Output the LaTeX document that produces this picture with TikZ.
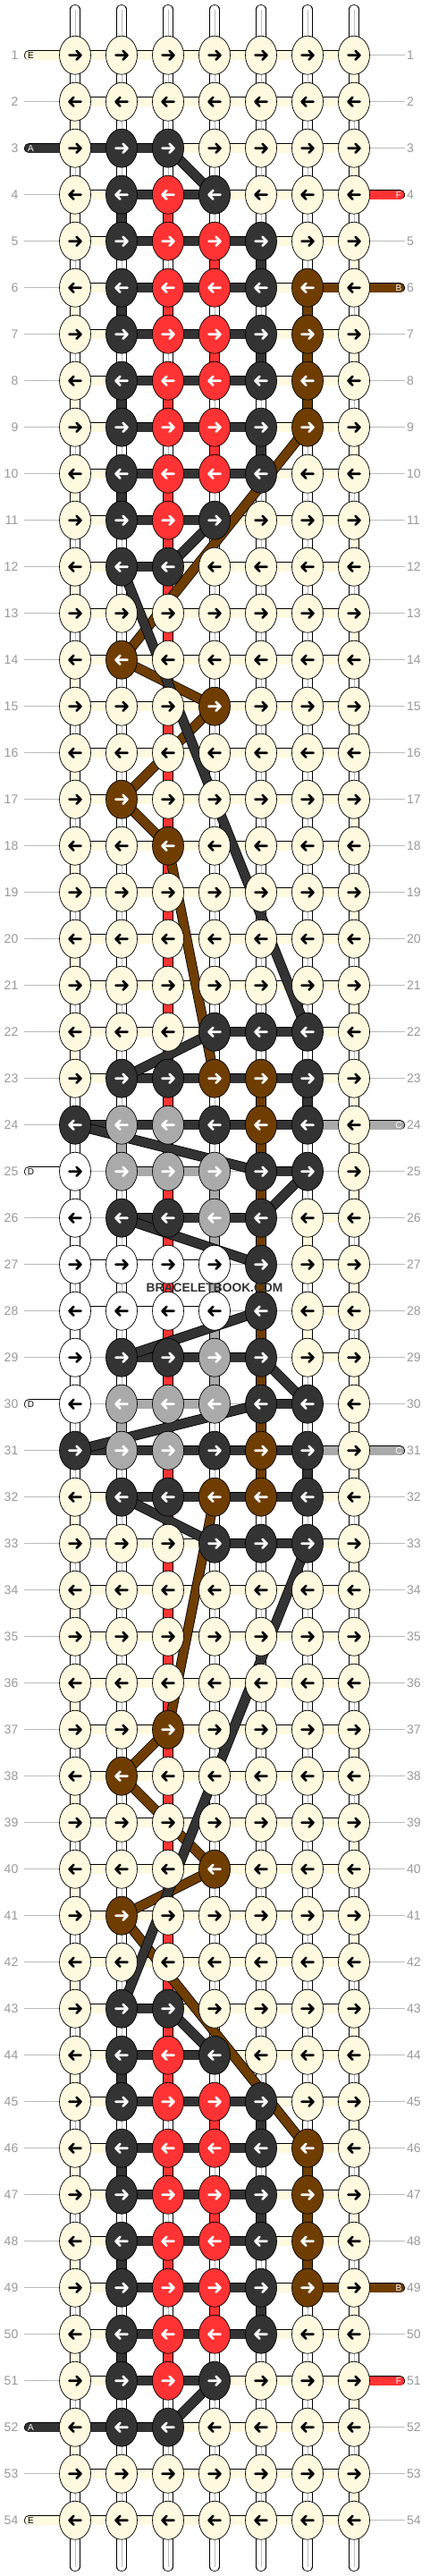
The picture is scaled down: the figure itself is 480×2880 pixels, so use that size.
\documentclass[tikz,border=0pt]{standalone}
\usepackage{fontspec}
\setmainfont{Liberation Sans}
\usepackage{xcolor}
\usepackage{tikz}
\usetikzlibrary{calc,positioning,shapes.geometric}

\definecolor{strE}{HTML}{FFFADF}
\definecolor{strA}{HTML}{333333}
\definecolor{strF}{HTML}{FF3333}
\definecolor{strB}{HTML}{6F3D00}
\definecolor{strC}{HTML}{AAAAAA}
\definecolor{strD}{HTML}{FFFFFF}
\definecolor{rowline}{HTML}{BBBBBB}
\definecolor{rownum}{HTML}{999999}

% arrow colour on each knot colour
\def\arrE{black}\def\arrD{black}
\def\arrA{white}\def\arrF{white}\def\arrB{white}\def\arrC{white}

\tikzset{
  knot/.style = {ellipse, draw=black, line width=0.7pt, minimum width=35pt, minimum height=43pt, inner sep=0pt},
  arw/.style = {line width=2.6pt, line cap=round, line join=round},
  strout/.style = {draw=black, line width=11.2pt},
  strin/.style = {line width=9.6pt},
  basemid/.style = {draw=rowline, line width=0.8pt},
  gridline/.style = {draw=rowline, line width=0.8pt},
  rownr/.style = {text=rownum, font=\fontsize{14}{14}\selectfont, inner sep=0pt},
  tailtxt/.style = {font=\fontsize{10}{10}\selectfont, inner sep=0pt},
  wmark/.style = {text=strA, font=\fontsize{13.8}{14}\selectfont\bfseries, inner sep=0pt}
}

% string below row #1 in column #2, colour #3 (and its mirror)
\newcommand{\vstr}[3]{%
  \foreach \ra in {#1, 54-#1} {
    \pgfmathtruncatemacro\ga{\ra}
    \pgfmathtruncatemacro\gb{\ra+1}
    \edef\vc{str#3}
    \draw[strout] (p-\ga-#2) -- (p-\gb-#2);
    \draw[strin, draw=\vc] (p-\ga-#2) -- (p-\gb-#2);
  }}

% slanted string from row #1 col #2 to row #3 col #4, colour #5 (and its mirror)
\newcommand{\dstr}[5]{%
  \foreach \ma/\mb in {#1/#3, 55-#1/55-#3} {
    \pgfmathtruncatemacro\da{\ma}
    \pgfmathtruncatemacro\db{\mb}
    \edef\vc{str#5}
    \draw[strout] (p-\da-#2) -- (p-\db-#4);
    \draw[strin, draw=\vc] (p-\da-#2) -- (p-\db-#4);
  }}

% row / knots / links / left tail / right tail  (rows 28-54 mirror these)
\def\rowdata{%
1/{E,E,E,E,E,E,E}/{E,E,E,E,E,E}/E/N,%
2/{E,E,E,E,E,E,E}/{E,E,E,E,E,E}/N/N,%
3/{E,A,A,E,E,E,E}/{A,A,E,E,E,E}/A/N,%
4/{E,A,F,A,E,E,E}/{E,A,A,E,E,E}/N/F,%
5/{E,A,F,F,A,E,E}/{E,A,A,A,E,E}/N/N,%
6/{E,A,F,F,A,B,E}/{E,A,A,A,E,B}/N/B,%
7/{E,A,F,F,A,B,E}/{E,A,A,A,E,E}/N/N,%
8/{E,A,F,F,A,B,E}/{E,A,A,A,E,E}/N/N,%
9/{E,A,F,F,A,B,E}/{E,A,A,A,E,E}/N/N,%
10/{E,A,F,F,A,E,E}/{E,A,A,A,E,E}/N/N,%
11/{E,A,F,A,E,E,E}/{E,A,A,E,E,E}/N/N,%
12/{E,A,A,E,E,E,E}/{E,A,E,E,E,E}/N/N,%
13/{E,E,E,E,E,E,E}/{E,E,E,E,E,E}/N/N,%
14/{E,B,E,E,E,E,E}/{E,E,E,E,E,E}/N/N,%
15/{E,E,E,B,E,E,E}/{E,E,E,E,E,E}/N/N,%
16/{E,E,E,E,E,E,E}/{E,E,E,E,E,E}/N/N,%
17/{E,B,E,E,E,E,E}/{E,E,E,E,E,E}/N/N,%
18/{E,E,B,E,E,E,E}/{E,E,E,E,E,E}/N/N,%
19/{E,E,E,E,E,E,E}/{E,E,E,E,E,E}/N/N,%
20/{E,E,E,E,E,E,E}/{E,E,E,E,E,E}/N/N,%
21/{E,E,E,E,E,E,E}/{E,E,E,E,E,E}/N/N,%
22/{E,E,E,A,A,A,E}/{E,E,E,A,A,E}/N/N,%
23/{E,A,A,B,B,A,E}/{E,A,A,A,A,E}/N/N,%
24/{A,C,C,A,B,A,E}/{A,A,A,A,A,C}/N/C,%
25/{D,C,C,C,A,A,E}/{N,C,C,N,A,N}/D/N,%
26/{D,A,A,C,A,E,E}/{N,A,A,A,N,E}/N/N,%
27/{D,D,D,D,A,E,E}/{D,D,D,N,N,E}/N/N}

% strings going down between rows: row/column/colour
\def\vertdata{%
4/2/A,6/2/A,8/2/A,10/2/A,5/5/A,7/5/A,9/5/A,23/6/A,%
4/3/F,6/3/F,8/3/F,5/4/F,7/4/F,9/4/F,%
6/6/B,7/6/B,8/6/B,23/5/B,24/5/B,25/5/B,26/5/B,27/5/B,%
24/2/C,25/4/C,26/4/C,27/4/C,%
25/1/D,26/1/D,%
23/7/E,24/7/E,25/7/E,26/6/E,27/7/E}

\begin{document}
\begin{tikzpicture}[x=1pt, y=-1pt]
\useasboundingbox (0,0) rectangle (480,2880);
\fill[white] (0,0) rectangle (480,2880);

% knot positions
\foreach \r in {1,...,54} {
  \foreach \c in {1,...,7}
    \coordinate (p-\r-\c) at ({32+52*\c}, {9.7+52*\r});
  \coordinate (tl-\r) at (32.5, {9.7+52*\r});
  \coordinate (tr-\r) at (447.5, {9.7+52*\r});
}

% base strings
\foreach \c in {1,...,7} {
  \coordinate (t-\c) at ({32+52*\c}, 10.5);
  \coordinate (b-\c) at ({32+52*\c}, 2869.5);
  \draw[strout, line cap=round] (t-\c) -- (b-\c);
  \draw[strin, draw=white, line cap=round] (t-\c) -- (b-\c);
  \draw[basemid] (t-\c) -- (b-\c);
}

% row numbers
\foreach \r in {1,...,54} {
  \node[rownr, anchor=east] (nl-\r) at (20.5, {9.7+52*\r}) {\r};
  \node[rownr, anchor=west] (nr-\r) at (455, {9.7+52*\r}) {\r};
  \draw[gridline, shorten <=6.5pt, shorten >=2pt] (nl-\r.east) -- (nr-\r.west);
}

% strings going down
\foreach \r in {1,...,22} {
  \pgfmathtruncatemacro\ec{mod(\r,2)==1 ? 7 : 1}
  \vstr{\r}{\ec}{E}
}
\foreach \r in {10,...,27} \vstr{\r}{3}{F};
\foreach \r/\c/\s in \vertdata \vstr{\r}{\c}{\s};

% links along the rows and tails
\foreach \r/\kn/\hs/\tl/\tr in \rowdata {
  \foreach \rr in {\r, 55-\r} {
    \pgfmathtruncatemacro\rw{\rr}
    \foreach \s [count=\c] in \hs {
      \if\s N\else
        \pgfmathtruncatemacro\cn{\c+1}
        \edef\vc{str\s}
        \draw[strout] (p-\rw-\c) -- (p-\rw-\cn);
        \draw[strin, draw=\vc] (p-\rw-\c) -- (p-\rw-\cn);
      \fi
    }
    \if\tl N\else
      \edef\vc{str\tl}\edef\ac{\csname arr\tl\endcsname}
      \draw[strout, line cap=round] (tl-\rw) -- (p-\rw-1);
      \draw[strin, draw=\vc, line cap=round] (tl-\rw) -- (p-\rw-1);
      \node[tailtxt, text=\ac] (tn-\rw) at ([xshift=2pt]tl-\rw) {\tl};
    \fi
    \if\tr N\else
      \edef\vc{str\tr}\edef\ac{\csname arr\tr\endcsname}
      \draw[strout, line cap=round] (p-\rw-7) -- (tr-\rw);
      \draw[strin, draw=\vc, line cap=round] (p-\rw-7) -- (tr-\rw);
      \node[tailtxt, text=\ac] (tm-\rw) at ([xshift=-1.5pt]tr-\rw) {\tr};
    \fi
  }
}

% slanted strings, brown below dark
\dstr{9}{6}{14}{2}{B}
\dstr{14}{2}{15}{4}{B}
\dstr{15}{4}{17}{2}{B}
\dstr{17}{2}{18}{3}{B}
\dstr{18}{3}{23}{4}{B}
\dstr{3}{3}{4}{4}{A}
\dstr{11}{4}{12}{3}{A}
\dstr{12}{2}{22}{6}{A}
\dstr{22}{4}{23}{2}{A}
\dstr{24}{1}{25}{5}{A}
\dstr{25}{6}{26}{5}{A}
\dstr{26}{2}{27}{5}{A}

% knots
\foreach \r/\kn/\hs/\tl/\tr in \rowdata {
  \foreach \rr in {\r, 55-\r} {
    \pgfmathtruncatemacro\rw{\rr}
    \pgfmathsetmacro\dr{mod(\rw,2)==1 ? 1 : -1}
    \foreach \k [count=\c] in \kn {
      \edef\vc{str\k}\edef\ac{\csname arr\k\endcsname}
      \node[knot, fill=\vc] (k-\rw-\c) at (p-\rw-\c) {};
      \draw[arw, draw=\ac] (k-\rw-\c.center) ++({-6.5*\dr},0) -- ++({13*\dr},0)
        ++({-5*\dr},-5) -- ++({5*\dr},5) -- ++({-5*\dr},5);
    }
  }
}

\node[wmark] (wm) at (240,1440) {BRACELETBOOK.COM};
\end{tikzpicture}
\end{document}
